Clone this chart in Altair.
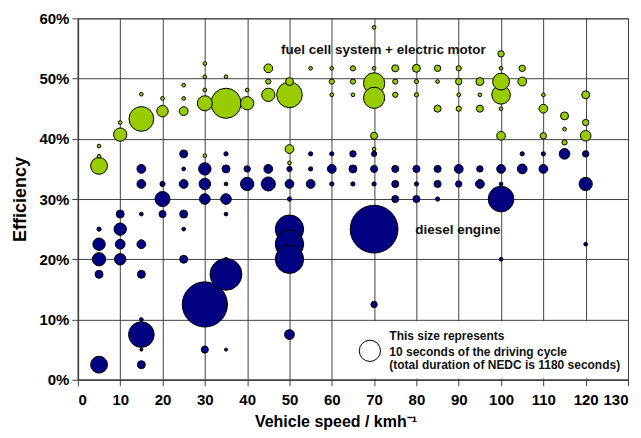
import altair as alt
import pandas as pd

# ---------- fuel cell system + electric motor ----------
fc_speed = [5, 5, 5, 10, 10, 15, 15, 20, 20, 25, 25, 25,
            30, 30, 30, 30, 30, 35, 35, 40, 40, 45, 45, 45,
            50, 50, 50, 50, 55, 60, 60, 60, 65, 65, 65,
            70, 70, 70, 70, 70, 70, 75, 75, 75, 80, 80, 80,
            85, 85, 85, 90, 90, 90, 90, 95, 95, 95,
            100, 100, 100, 100, 100, 100, 105, 105,
            110, 110, 110, 115, 115, 115, 120, 120, 120]
fc_eff = [38.8, 37.1, 35.5, 42.7, 40.7, 47.4, 43.3, 46.7, 44.6, 48.9, 46.7, 44.6,
          52.5, 50.3, 48.1, 45.9, 37.2, 50.3, 45.9, 48.1, 45.9, 51.7, 49.5, 47.3,
          49.5, 47.3, 38.3, 36.0, 51.7, 51.7, 49.5, 47.3, 51.7, 49.5, 47.3,
          58.5, 51.7, 49.2, 46.8, 40.5, 38.3, 51.7, 49.5, 47.3, 51.7, 49.5, 47.3,
          51.7, 49.5, 45.0, 51.7, 49.5, 47.3, 45.0, 49.5, 47.3, 45.0,
          54.1, 51.7, 49.5, 47.3, 45.0, 40.5, 51.7, 49.5,
          47.3, 45.0, 40.5, 43.8, 41.6, 39.4, 47.3, 42.7, 40.5]
fc_sec = [0.3, 0.3, 6.3, 0.3, 3.9, 0.3, 13.6, 0.3, 2.9, 0.3, 0.3, 1.7,
          0.3, 0.3, 0.3, 5.0, 0.3, 0.3, 20.1, 0.3, 3.9, 1.7, 0.6, 3.9,
          1.4, 14.6, 1.7, 0.3, 0.3, 0.3, 0.6, 0.3, 0.6, 0.6, 0.3,
          0.3, 0.3, 10.0, 10.0, 1.1, 0.3, 1.1, 0.6, 0.6, 1.4, 0.4, 0.4,
          0.9, 0.3, 1.1, 0.6, 0.9, 0.3, 0.6, 1.4, 0.3, 1.1,
          0.9, 0.3, 6.3, 7.7, 0.3, 1.7, 0.9, 1.7,
          0.3, 1.7, 0.9, 1.4, 0.3, 0.6, 1.4, 0.9, 2.5]

# ---------- diesel engine ----------
de_speed = [5, 5, 5, 5, 5, 10, 10, 10, 10,
            15, 15, 15, 15, 15, 15, 15, 15, 15,
            20, 20, 20, 25, 25, 25, 25, 25, 25,
            30, 30, 30, 30, 30,
            35, 35, 35, 35, 35, 35, 35, 35, 35,
            40, 40, 45, 45, 50, 50, 50, 50, 50, 50, 50,
            55, 55, 55, 60, 60, 60, 65, 65, 65,
            70, 70, 70, 70, 70, 75, 75, 75, 80, 80, 80, 85, 85, 85,
            90, 90, 95, 95, 100, 100, 100, 100,
            105, 105, 110, 110, 115, 120, 120, 120]
de_eff = [25, 22.5, 20, 17.5, 2.5, 27.5, 25, 22.5, 20,
          35, 32.5, 27.5, 22.5, 17.5, 10, 7.5, 5, 2.5,
          32.5, 30, 27.5, 37.5, 35, 32.5, 27.5, 25, 20,
          35, 32.5, 30, 12.5, 5,
          37.5, 35, 32.5, 30, 27.5, 20, 17.5, 12.5, 5,
          35, 32.5, 35, 32.5, 35, 32.5, 30, 25, 22.5, 20, 7.5,
          37.5, 35, 32.5, 37.5, 35, 32.5, 37.5, 35, 32.5,
          37.5, 35, 32.5, 25, 12.5, 35, 32.5, 30, 35, 32.5, 30, 35, 32.5, 30,
          35, 32.5, 35, 32.5, 35, 32.5, 30, 20,
          37.5, 35, 37.5, 35, 37.5, 37.5, 32.5, 22.5]
de_sec = [0.4, 3.4, 3.9, 1.4, 6.3, 1.4, 3.4, 2.1, 2.9,
          1.7, 1.7, 0.3, 1.7, 1.4, 0.3, 14.6, 0.2, 1.4,
          0.6, 5.0, 1.1, 1.4, 0.3, 1.7, 1.4, 0.3, 1.4,
          3.4, 2.9, 2.5, 45.2, 1.1,
          0.4, 1.4, 0.3, 2.5, 0.3, 0.3, 22.5, 0.2, 0.2,
          0.9, 3.9, 1.7, 4.4, 0.6, 1.7, 0.4, 17.8, 17.8, 17.8, 2.1,
          0.4, 0.4, 1.7, 0.4, 1.7, 0.4, 0.9, 1.4, 0.4,
          0.6, 1.1, 0.4, 50.6, 0.9, 1.1, 1.1, 1.1, 1.1, 0.4, 1.1, 1.1, 1.1, 0.4,
          1.7, 0.9, 0.9, 1.7, 1.7, 0.3, 14.6, 0.3,
          0.4, 2.1, 0.4, 1.7, 2.5, 0.9, 3.9, 0.3]

# ---------- annotations ----------
label_text = ["fuel cell system + electric motor", "diesel engine"]
label_x = [72.2, 89.8]
label_y = [54.7, 24.9]

key_lines = ["This size represents", "10 seconds of the driving cycle",
             "(total duration of NEDC is 1180 seconds)"]
key_line_x = [73.6, 73.6, 73.6]
key_line_y = [7.2, 4.6, 2.4]
key_circle_x = [69.0]
key_circle_y = [4.8]
key_circle_sec = [10]
key_box = {"x": [63], "x2": [130], "y": [0.2], "y2": [9.7]}

FONT = "Liberation Sans, Arial, Helvetica, sans-serif"
GRID = "#404040"

fc = pd.DataFrame({"speed": fc_speed, "eff": [e / 100 for e in fc_eff], "sec": fc_sec})
de = pd.DataFrame({"speed": de_speed, "eff": [e / 100 for e in de_eff], "sec": de_sec})
labels = pd.DataFrame({"t": label_text, "speed": label_x, "eff": [v / 100 for v in label_y]})
keytext = pd.DataFrame({"t": key_lines, "speed": key_line_x, "eff": [v / 100 for v in key_line_y]})
keycirc = pd.DataFrame({"speed": key_circle_x, "eff": [v / 100 for v in key_circle_y], "sec": key_circle_sec})
box = pd.DataFrame({"speed": key_box["x"], "x2": key_box["x2"],
                    "eff": [v / 100 for v in key_box["y"]], "y2": [v / 100 for v in key_box["y2"]]})

xs = alt.Scale(domain=[0, 130], nice=False, zero=False)
ys = alt.Scale(domain=[0, 0.6], nice=False)
ss = alt.Scale(type="linear", domain=[0, 60], range=[0, 2714], zero=True)

x_axis = alt.Axis(values=list(range(0, 131, 10)), title="Vehicle speed / kmh⁻¹",
                  grid=True, labelPadding=7, titlePadding=6, titleFontSize=16, titleX=258)
y_axis = alt.Axis(values=[0, 0.1, 0.2, 0.3, 0.4, 0.5, 0.6], format=".0%", title="Efficiency",
                  grid=True, labelPadding=3, titlePadding=9)

X = alt.X("speed:Q", scale=xs, axis=x_axis)
Y = alt.Y("eff:Q", scale=ys, axis=y_axis)

box_layer = alt.Chart(box).mark_rect(color="white").encode(
    x=X, x2="x2:Q", y=Y, y2="y2:Q",
)


def bubbles(df, color):
    return alt.Chart(df).mark_circle(opacity=1, stroke="black", strokeWidth=1, color=color).encode(
        x=X, y=Y,
        size=alt.Size("sec:Q", scale=ss, legend=None),
        order=alt.Order("sec:Q", sort="descending"),
    )


de_layer = bubbles(de, "#000080")
fc_layer = bubbles(fc, "#99cc00")

key_layer = alt.Chart(keycirc).mark_circle(opacity=1, color="white", stroke="black", strokeWidth=1).encode(
    x=X, y=Y,
    size=alt.Size("sec:Q", scale=ss, legend=None),
)

label_layer = alt.Chart(labels).mark_text(font=FONT, fontSize=13.5, fontWeight="bold",
                                          color="#111", align="center", baseline="middle").encode(
    x=X, y=Y, text="t:N",
)

keytext_layer = alt.Chart(keytext).mark_text(font=FONT, fontSize=12, fontWeight="bold",
                                             color="#111", align="left", baseline="middle").encode(
    x=X, y=Y, text="t:N",
)

chart = alt.layer(box_layer, de_layer, fc_layer, key_layer, label_layer, keytext_layer).properties(
    width=551, height=362,
    autosize=alt.AutoSizeParams(type="none"),
    padding={"left": 70, "top": 10, "right": 5, "bottom": 50},
    background="white",
).configure_view(stroke=GRID, strokeWidth=1).configure_axis(
    labelFont=FONT, labelFontWeight="bold", labelFontSize=15, labelColor="black",
    titleFont=FONT, titleFontWeight="bold", titleFontSize=18, titleColor="black",
    tickColor=GRID, tickSize=6, tickWidth=1,
    domainColor=GRID, domainWidth=1.5,
    gridColor=GRID, gridWidth=1, gridOpacity=1,
)

chart.save("out.html", embed_options={"renderer": "svg", "actions": False})
